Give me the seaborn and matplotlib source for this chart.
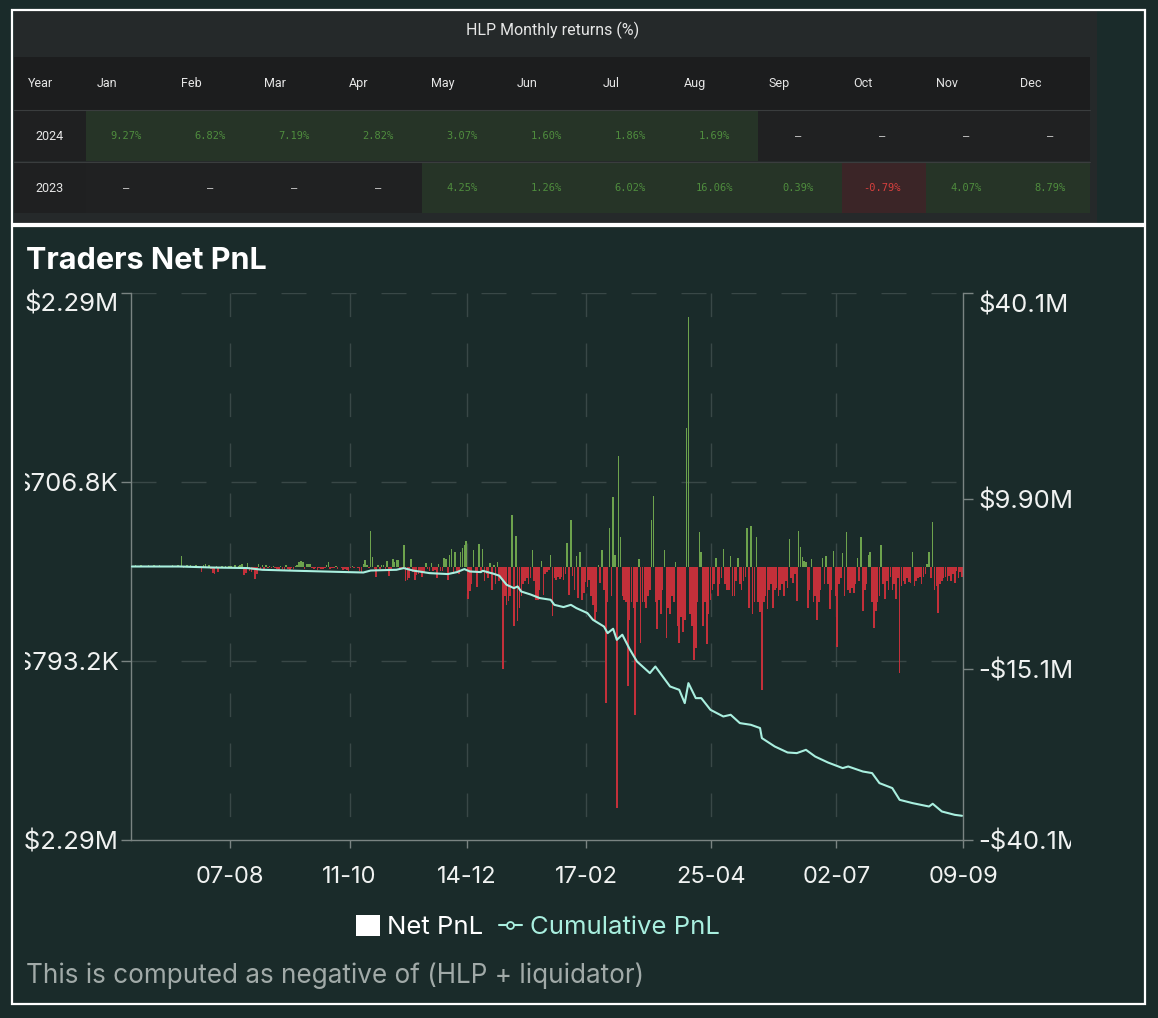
import numpy as np
import pandas as pd
import matplotlib
matplotlib.use('Agg')
import matplotlib.pyplot as plt
import seaborn as sns
from matplotlib.patches import Rectangle, Patch
from matplotlib.lines import Line2D
from matplotlib.transforms import Bbox, TransformedBbox
from matplotlib import font_manager

# --- HLP monthly returns table (%) ---
months = ['Jan', 'Feb', 'Mar', 'Apr', 'May', 'Jun', 'Jul', 'Aug', 'Sep', 'Oct', 'Nov', 'Dec']
years = ['2024', '2023']
ret_2024 = [9.27, 6.82, 7.19, 2.82, 3.07, 1.60, 1.86, 1.69, None, None, None, None]
ret_2023 = [None, None, None, None, 4.25, 1.26, 6.02, 16.06, 0.39, -0.79, 4.07, 8.79]

# --- daily traders net PnL, thousands of USD (first day 2023-06-14) ---
pnl_2023_06 = [5, -8, 12, 3, -6, 10, 4, -3, 8, 15, -5, 6, 9, -4, 7, 12, -6]
pnl_2023_07 = [6, -4, 8, 5, -7, 10, 4, -5, 12, 6, 89, -10, 8, 14, -6, 10, 7, -12, 15, 8,
               -14, -50, 10, 18, -15, 12, -20, -55, -61, 8, -45]
pnl_2023_08 = [-8, 5, -12, 6, -10, 4, 8, -6, 10, -5, 7, 12, 22, -75, -55, 28, -40, -50, -30, -103,
               -61, 20, -30, 15, -20, 10, -15, 8, -12, 6, -10]
pnl_2023_09 = [-20, -30, 8, -25, -40, 10, -18, -35, -12, -22, 6, 15, 40, 47, 35, -20, 25, 18, 20, -10,
               -25, -15, -30, -12, -20, -18, -10, 12, 35, -25]
pnl_2023_10 = [-15, -10, 5, -20, -8, -12, -30, -25, -28, -35, -10, 6, -15, -8, -12, -40, -45, 20, 56, 10,
               -15, 300, 78, -20, -90, 12, -25, 15, 10, -20, 47]
pnl_2023_11 = [-78, -20, 64, 40, 58, 55, -15, -20, 176, -125, -110, -100, 64, -50, -110, -70, -60, -50, -85, -45,
               30, -20, -35, 30, -40, -30, -98, 20, -40, -35]
pnl_2023_12 = [70, 60, -109, 100, 145, -60, 120, -40, -60, 120, 153, 180, 215, -274, -209, -150, 134, -40, -173, 190,
               -50, 148, -125, -60, -100, 30, -200, 10, -150, 39, -125]
pnl_2024_01 = [-100, -860, -250, -320, -290, -250, 432, -502, 257, -460, -350, -250, -150, -120, -100, -150, -100, 140, -120, -280,
               -280, -200, 50, -237, -60, -50, -30, 98, -418, -95, -110]
pnl_2024_02 = [-90, -105, -85, -110, -60, 200, -237, 390, -80, -200, 84, -265, 125, -280, -220, -130, -170, -110, -250, -320,
               -446, -380, 15, -140, 134, -200, -1144, -300, 320]
pnl_2024_03 = [-250, 586, 100, -2023, 926, 251, -250, -280, -300, -1004, -450, -300, -350, -1242, -300, 60, -640, -300, -300, -350,
               -250, -200, 390, 592, -300, -520, -280, -400, -200, 134, -600]
pnl_2024_04 = [-350, -400, -250, -300, 40, -500, -640, -420, -550, -450, 1163, 2092, -400, -500, -780, -684, -300, 293, 125, -500,
               -300, -650, -400, -280, -200, -150, 67, -250, -150, -100]
pnl_2024_05 = [145, -150, -200, -200, 84, -250, -250, -120, 70, -150, -195, -120, -84, 326, -350, 335, -400, -300, 251, -300,
               -380, -1032, -300, -250, -360, -200, -150, -350, -200, -180, -250]
pnl_2024_06 = [-200, -150, -250, -120, -180, 229, -100, -140, -60, -293, 298, 167, 80, 50, 40, -350, -200, 64, -300, -250,
               -446, -300, -200, 70, -150, 84, -150, -360, -200, 131]
pnl_2024_07 = [-250, -670, -150, -100, 109, -250, 290, -200, -226, -180, -220, -150, 70, -120, 245, -376, -200, -150, 100, 125,
               -300, -516, -376, -300, -250, 181, -150, -276, -120, -200, -84]
pnl_2024_08 = [-200, -150, -276, -100, -893, -167, -120, -150, -100, -130, -140, 125, -167, -120, -100, -84, -150, -90, -60, 20,
               125, -100, 371, -200, -167, -390, -150, -120, -100, -84, -120]
pnl_2024_09 = [-80, -120, -60, -140, -40, -100, -50, -90]

# --- cumulative PnL, millions of USD ---
cum_dates = ['2023-06-14', '2023-07-10', '2023-07-28', '2023-08-16', '2023-08-24', '2023-09-12', '2023-10-09',
             '2023-10-18', '2023-10-22', '2023-11-05', '2023-11-09', '2023-11-14', '2023-11-23', '2023-12-03',
             '2023-12-08', '2023-12-12', '2023-12-15', '2023-12-21', '2023-12-22', '2023-12-28', '2023-12-31',
             '2024-01-04', '2024-01-08', '2024-01-10', '2024-01-12', '2024-01-17', '2024-01-22', '2024-01-28',
             '2024-01-30', '2024-02-04', '2024-02-08', '2024-02-11', '2024-02-17', '2024-02-20', '2024-02-26',
             '2024-02-28', '2024-03-02', '2024-03-04', '2024-03-07', '2024-03-11', '2024-03-15', '2024-03-22',
             '2024-03-25', '2024-03-29', '2024-04-02', '2024-04-07', '2024-04-10', '2024-04-12', '2024-04-16',
             '2024-04-19', '2024-04-24', '2024-05-01', '2024-05-05', '2024-05-10', '2024-05-16', '2024-05-21',
             '2024-05-22', '2024-05-29', '2024-06-05', '2024-06-10', '2024-06-15', '2024-06-20', '2024-06-27',
             '2024-07-05', '2024-07-08', '2024-07-16', '2024-07-21', '2024-07-25', '2024-08-01', '2024-08-05',
             '2024-08-12', '2024-08-21', '2024-08-23', '2024-08-28', '2024-09-04', '2024-09-08']
cum_musd = [0.0, 0.0, -0.15, -0.23, -0.48, -0.63, -0.82,
            -0.88, -0.59, -0.48, -0.23, -0.59, -0.97, -1.11,
            -0.82, -0.38, -0.73, -0.82, -0.63, -1.07, -1.35,
            -2.68, -3.17, -2.93, -3.67, -4.10, -4.63, -4.88,
            -5.62, -5.95, -5.62, -6.10, -6.83, -7.81, -8.80,
            -9.77, -9.13, -10.75, -10.00, -12.11, -13.93, -15.63,
            -14.66, -16.13, -17.59, -18.08, -20.03, -17.10, -19.30,
            -19.30, -21.01, -21.99, -21.74, -22.96, -23.21, -23.69,
            -25.16, -26.39, -27.27, -27.36, -26.88, -27.86, -28.74,
            -29.56, -29.32, -30.06, -30.29, -31.76, -32.49, -34.21,
            -34.69, -35.19, -34.79, -35.92, -36.41, -36.55]

left_ticks = [-2.29, -0.7932, 0.7068, 2.29]
left_labels = ['-$2.29M', '-$793.2K', '$706.8K', '$2.29M']
right_ticks = [-40.1, -15.1, 9.9, 40.1]
right_labels = ['-$40.1M', '-$15.1M', '$9.90M', '$40.1M']
tick_dates = ['2023-08-07', '2023-10-11', '2023-12-14', '2024-02-17', '2024-04-25', '2024-07-02', '2024-09-09']

# colours
BG = '#1a2b2a'
TABLE_BG = '#25292a'
GREEN = '#6da34d'
RED = '#c3303a'
CYAN = '#a9efdf'
GRID = '#394847'
SPINE = '#7a8482'
TXT = '#f0f2f1'

W, H = 1158, 1018
FS = 18.5

sns.set_theme(style='dark')
installed = {f.name for f in font_manager.fontManager.ttflist}
plt.rcParams['font.family'] = ['Inter', 'DejaVu Sans']
narrow = 'Liberation Sans Narrow' if 'Liberation Sans Narrow' in installed else 'Roboto'

fig = plt.figure(figsize=(W / 100, H / 100), dpi=100, facecolor=BG)

# background layer in pixel coordinates: table + frames
bg = fig.add_axes([0, 0, 1, 1])
bg.set_xlim(0, W)
bg.set_ylim(H, 0)
bg.axis('off')

bg.add_patch(Rectangle((14, 11), 1083, 212, color=TABLE_BG, lw=0))
bg.add_patch(Rectangle((14, 57), 1076, 53, color='#1c1d1e', lw=0))
bg.text(553, 30, 'HLP Monthly returns (%)', ha='center', va='center', color='#e6e6e6',
        fontsize=11.5, family=narrow)
bg.text(41, 83, 'Year', ha='center', va='center', color='#e6e6e6', fontsize=9, family=narrow)
for i, m in enumerate(months):
    bg.text(107 + 84 * i, 83, m, ha='center', va='center', color='#e6e6e6', fontsize=9, family=narrow)

for r, (year, vals) in enumerate(zip(years, [ret_2024, ret_2023])):
    top = 111 + 52 * r
    bg.add_patch(Rectangle((14, top), 72, 50, color='#1f2021', lw=0))
    bg.text(50, top + 25, year, ha='center', va='center', color='#e6e6e6', fontsize=9, family=narrow)
    for i, v in enumerate(vals):
        x0 = 86 + 84 * i
        w = 84 if i < 11 else 1090 - x0
        if v is None:
            fc, tc, s = '#202122', '#d8d8d8', '–'
        elif v < 0:
            fc, tc, s = '#3b2527', '#d8403e', f'{v:.2f}%'
        else:
            fc, tc, s = '#263427', '#4f8d3e', f'{v:.2f}%'
        bg.add_patch(Rectangle((x0, top), w, 50, color=fc, lw=0))
        bg.text(x0 + 40, top + 25, s, ha='center', va='center', color=tc, fontsize=7.5,
                family='DejaVu Sans Mono')
    bg.plot([14, 1090], [top - 1, top - 1], color='#3a3d3e', lw=0.8)

bg.add_patch(Rectangle((12, 10), 1133, 214, fill=False, ec='white', lw=1.6))
bg.add_patch(Rectangle((12, 226), 1133, 778, fill=False, ec='white', lw=1.6))

# --- chart ---
pnl = np.array(pnl_2023_06 + pnl_2023_07 + pnl_2023_08 + pnl_2023_09 + pnl_2023_10 + pnl_2023_11
               + pnl_2023_12 + pnl_2024_01 + pnl_2024_02 + pnl_2024_03 + pnl_2024_04 + pnl_2024_05
               + pnl_2024_06 + pnl_2024_07 + pnl_2024_08 + pnl_2024_09, dtype=float)
n = len(pnl)
start = pd.Timestamp('2023-06-14')
df = pd.DataFrame({'day': np.arange(n), 'pnl': pnl * 1000,
                   'side': np.where(pnl >= 0, 'gain', 'loss')})

ax = fig.add_axes([131 / W, 1 - 840 / H, 832 / W, 547 / H])
ax.set_facecolor(BG)

tick_pos = [(pd.Timestamp(d) - start).days - 0.5 for d in tick_dates]
tick_lab = [pd.Timestamp(d).strftime('%d-%m') for d in tick_dates]

for y in left_ticks[1:]:
    ax.axhline(y * 1e6, color=GRID, lw=1, dashes=(18, 18), zorder=0)
for xp in tick_pos[:-1]:
    ax.plot([xp, xp], [2.29e6, -2.29e6], color=GRID, lw=1, dashes=(17, 19), zorder=0)

sns.barplot(data=df, x='day', y='pnl', hue='side', palette={'gain': GREEN, 'loss': RED},
            dodge=False, native_scale=True, errorbar=None, width=0.85, linewidth=0,
            saturation=1, legend=False, ax=ax)
ax.set_xlim(-0.5, n - 0.5)
ax.set_ylim(-2.29e6, 2.29e6)
ax.set_xlabel('')
ax.set_ylabel('')

ax2 = ax.twinx()
cum_idx = [(pd.Timestamp(d) - start).days for d in cum_dates]
sns.lineplot(x=cum_idx, y=np.array(cum_musd) * 1e6, ax=ax2, color=CYAN, lw=1.5)
ax2.set_ylim(-40.1e6, 40.1e6)
ax2.set_xlim(-0.5, n - 0.5)

for s in ['top', 'right']:
    ax.spines[s].set_visible(False)
for s in ['left', 'bottom']:
    ax.spines[s].set_color(SPINE)
    ax.spines[s].set_linewidth(1)
for s in ['top', 'left', 'bottom']:
    ax2.spines[s].set_visible(False)
ax2.spines['right'].set_color(SPINE)
ax2.spines['right'].set_linewidth(1)

ax.set_yticks(np.array(left_ticks) * 1e6, left_labels)
ax.set_xticks(tick_pos, tick_lab)
ax.tick_params(axis='y', left=True, length=7, width=1, color=SPINE, labelcolor=TXT,
               labelsize=FS, pad=2)
ax.tick_params(axis='x', bottom=True, length=6, width=1, color=SPINE, labelcolor=TXT,
               labelsize=17, pad=13)
ax2.set_yticks(np.array(right_ticks) * 1e6, right_labels)
ax2.tick_params(axis='y', right=True, length=7, width=1, color=SPINE, labelcolor=TXT,
                labelsize=FS, pad=4)
ax2.set_ylabel('')

clip_l = TransformedBbox(Bbox([[25 / W, 0], [1, 1]]), fig.transFigure)
clip_r = TransformedBbox(Bbox([[0, 0], [1071 / W, 1]]), fig.transFigure)
for lab in ax.get_yticklabels():
    lab.set_clip_box(clip_l)
    lab.set_clip_on(True)
for lab in ax2.get_yticklabels():
    lab.set_clip_box(clip_r)
    lab.set_clip_on(True)
ax.get_yticklabels()[-1].set_va('top')
ax2.get_yticklabels()[-1].set_va('top')

fig.text(26 / W, 1 - 261 / H, 'Traders Net PnL', color='white', fontsize=22,
         fontweight='bold', va='center', ha='left')

handles = [Patch(facecolor='white', edgecolor='none'),
           Line2D([0], [0], color=CYAN, lw=1.5, marker='o', ms=5, mfc=BG, mec=CYAN, mew=1.3)]
fig.legend(handles, ['Net PnL', 'Cumulative PnL'], loc='center',
           bbox_to_anchor=(538 / W, 1 - 927 / H), ncol=2, frameon=False, fontsize=18.5,
           labelcolor=['white', CYAN], handlelength=0.9, handleheight=0.9,
           handletextpad=0.3, columnspacing=0.6)

fig.text(26 / W, 1 - 976 / H, 'This is computed as negative of (HLP + liquidator)',
         color='#a1aaa8', fontsize=18.8, va='center', ha='left')

fig.savefig('out.png', dpi=100, facecolor=BG)
